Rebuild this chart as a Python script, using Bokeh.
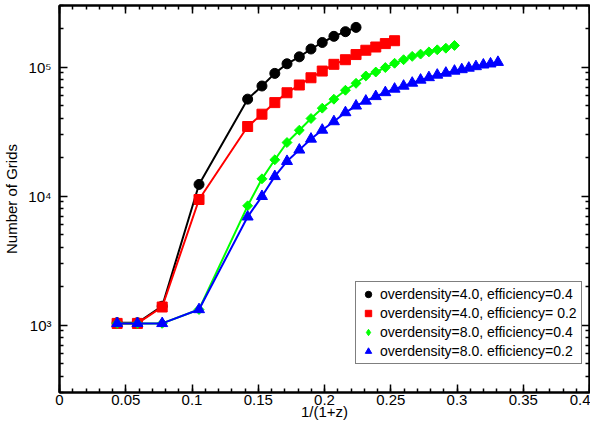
import numpy as np
from bokeh.plotting import figure
from bokeh.models import (FixedTicker, LinearAxis, LogAxis, Legend, LegendItem,
                          CustomJSTickFormatter, Range1d)
from bokeh.embed import file_html
from bokeh.resources import INLINE

# ---- data ----
x_early = [0.0435, 0.0588, 0.0775, 0.1053]
x_grid = [0.1420, 0.1528, 0.1625, 0.1717, 0.1810, 0.1898, 0.1983, 0.2071, 0.2158,
          0.2238, 0.2312, 0.2387, 0.2459, 0.2529, 0.2597, 0.2662, 0.2725, 0.2788,
          0.2851, 0.2916, 0.2981, 0.3036, 0.3089, 0.3143, 0.3199, 0.3253, 0.3309]

od4_eff04 = [1040, 1040, 1400, 12300,
             56400, 71300, 89300, 106000, 120000, 138000, 155000, 173000, 188000, 203000]
od4_eff02 = [1030, 1030, 1380, 9400,
             34600, 43100, 53000, 63200, 72600, 82600, 93100, 105000, 114000, 125000,
             135000, 143000, 152000, 160000]
od8_eff04 = [1030, 1030, 1030, 1320,
             8400, 13600, 19100, 26000, 32400, 39900, 48000, 56300, 66100, 74800,
             85300, 91500, 99100, 107000, 114000, 121000, 126000, 131000, 136000,
             140000, 147000]
od8_eff02 = [1030, 1030, 1030, 1320,
             6900, 9950, 14200, 18600, 22800, 27700, 32500, 37800, 44400, 50000,
             54600, 59200, 63500, 67600, 71300, 75200, 79400, 83000, 86800, 89900,
             93200, 95700, 98300, 101000, 104000, 106000, 109000]

labels = ["overdensity=4.0, efficiency=0.4",
          "overdensity=4.0, efficiency= 0.2",
          "overdensity=8.0, efficiency=0.4",
          "overdensity=8.0. efficiency=0.2"]

x_ticks = [0, 0.05, 0.1, 0.15, 0.2, 0.25, 0.3, 0.35, 0.4]
x_tick_labels = ["0", "0.05", "0.1", "0.15", "0.2", "0.25", "0.3", "0.35", "0.4"]
x_minor = [round(i * 0.01, 2) for i in range(0, 41)]
y_ticks = [1e3, 1e4, 1e5]
y_tick_labels = ["10³", "10⁴", "10⁵"]
y_minor = [m * 10 ** e for e in (2, 3, 4, 5) for m in range(2, 10)]

FONT = "Liberation Sans"

p = figure(width=590, height=422, x_range=Range1d(0, 0.4), y_range=Range1d(300, 3e5),
           y_axis_type="log", output_backend="svg", toolbar_location=None,
           min_border_left=51, min_border_right=1, min_border_top=5, min_border_bottom=20,
           x_axis_label="1/(1+z)", y_axis_label="Number of Grids")
p.xgrid.visible = False
p.ygrid.visible = False
p.outline_line_color = "black"
p.outline_line_width = 2
p.background_fill_color = "white"
p.border_fill_color = "white"

bottom = p.below[0]
left = p.left[0]

xt = FixedTicker(ticks=x_ticks, minor_ticks=x_minor)
yt = FixedTicker(ticks=y_ticks, minor_ticks=y_minor)

bottom.ticker = xt
left.ticker = yt
bottom.major_label_overrides = {t: l for t, l in zip(x_ticks, x_tick_labels)}
left.major_label_overrides = {t: l for t, l in zip(y_ticks, y_tick_labels)}

blank = CustomJSTickFormatter(code="return ''")
top = LinearAxis(ticker=xt, formatter=blank, major_label_standoff=0)
right = LogAxis(ticker=yt, formatter=blank, major_label_standoff=0)
p.add_layout(top, "above")
p.add_layout(right, "right")

for ax in [bottom, left, top, right]:
    ax.axis_line_width = 2
    ax.axis_line_color = "black"
    ax.major_tick_in = 8
    ax.major_tick_out = 0
    ax.minor_tick_in = 4
    ax.minor_tick_out = 0
    ax.major_tick_line_width = 1.5
    ax.minor_tick_line_width = 1.5
    ax.major_tick_line_color = "black"
    ax.minor_tick_line_color = "black"
    ax.major_label_text_font = FONT
    ax.major_label_text_font_size = "15px"
    ax.major_label_text_color = "black"
    ax.axis_label_text_font = FONT
    ax.axis_label_text_font_size = "15px"
    ax.axis_label_text_font_style = "normal"
    ax.axis_label_text_color = "black"

bottom.major_label_standoff = 2
bottom.axis_label_standoff = -5
left.major_label_standoff = 8
left.axis_label_standoff = 5

series = [
    (od4_eff04, "black", "circle", 10, 0, None),
    (od4_eff02, "red", "square", 10, 0, None),
    (od8_eff04, "#00ff00", "square", 7, np.pi / 4, ("diamond", 13)),
    (od8_eff02, "blue", "triangle", 11, 0, None),
]

items = []
for (ys, col, mk, sz, ang, leg_glyph), lab in zip(series, labels):
    xs = (x_early + x_grid)[:len(ys)]
    p.line(xs, ys, line_color=col, line_width=2)
    r = p.scatter(xs, ys, marker=mk, size=sz, angle=ang, fill_color=col, line_color=col)
    if leg_glyph is not None:
        # legend-only glyph: a single non-finite point, never drawn in the plot
        r = p.scatter([np.nan], [np.nan], marker=leg_glyph[0], size=leg_glyph[1],
                      fill_color=col, line_color=col)
    items.append(LegendItem(label=lab, renderers=[r]))

legend = Legend(items=items, location=(296, 28))
legend.border_line_color = "black"
legend.border_line_width = 1
legend.background_fill_color = "white"
legend.background_fill_alpha = 1
legend.padding = 4
legend.spacing = 3
legend.margin = 0
legend.label_height = 16
legend.glyph_height = 16
legend.glyph_width = 16
legend.label_standoff = 4
legend.label_text_font = FONT
legend.label_text_font_size = "14px"
legend.label_text_color = "black"
p.add_layout(legend)

open("out.html", "w").write(file_html(p, INLINE))
